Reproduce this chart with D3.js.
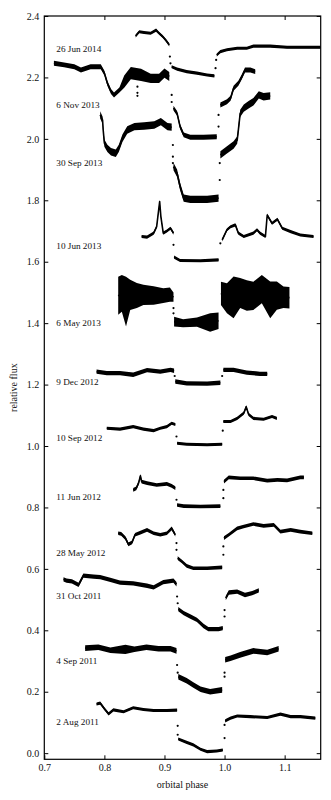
<!DOCTYPE html>
<html>
<head>
<meta charset="utf-8">
<script src="https://cdn.jsdelivr.net/npm/d3@7"></script>
<style>
  body { margin: 0; background: #fff; }
  svg text { font-family: "Liberation Serif", "DejaVu Serif", serif; fill: #111; }
</style>
</head>
<body>
<div id="chart"></div>
<script>
// Light curves: [phase, relative flux, (optional) scatter half-width]; null = gap
const aug2011 = [
  [0.787,0.160],[0.793,0.163],[0.801,0.142],[0.807,0.128],[0.815,0.141],[0.832,0.135],[0.848,0.148],[0.865,0.142],[0.882,0.139],[0.904,0.139],[0.921,0.140],
  null,
  [0.923,0.046],[0.937,0.035],[0.948,0.027],[0.960,0.013],[0.971,0.005],[0.987,0.007],[0.997,0.010],
  null,
  [1.001,0.105],[1.010,0.114],[1.021,0.121],[1.043,0.119],[1.071,0.116],[1.093,0.127],[1.110,0.119],[1.126,0.119],[1.151,0.114]
];
const aug2011Dots = [[0.922,0.089],[0.922,0.060],[1.000,0.049],[1.000,0.092]];

const sep2011 = [
  [0.768,0.342],[0.790,0.345],[0.810,0.335],[0.835,0.338,0.015],[0.850,0.338],[0.870,0.345],[0.890,0.340],[0.910,0.340],[0.920,0.333],
  null,
  [0.923,0.249],[0.937,0.236],[0.948,0.222],[0.960,0.208],[0.976,0.200],[0.996,0.206],
  null,
  [1.001,0.304],[1.010,0.309],[1.026,0.320],[1.048,0.333],[1.071,0.328],[1.090,0.340]
];
const sep2011Dots = [[0.921,0.287],[0.922,0.262],[1.000,0.249],[1.000,0.262]];

const oct2011 = [
  [0.732,0.566],[0.737,0.562],[0.746,0.559],[0.757,0.548],[0.765,0.578],[0.782,0.575],[0.793,0.573],[0.810,0.564],[0.826,0.555],[0.848,0.553],[0.871,0.545],[0.882,0.540],[0.898,0.557],[0.915,0.562],[0.920,0.550],
  null,
  [0.923,0.469],[0.932,0.456],[0.943,0.445],[0.954,0.434],[0.965,0.414],[0.973,0.404],[0.990,0.404],[0.997,0.407],
  null,
  [1.002,0.505],[1.007,0.523],[1.021,0.526],[1.034,0.515],[1.046,0.521],[1.057,0.530]
];
const oct2011Dots = [[0.921,0.510],[0.922,0.488],[1.000,0.445],[1.000,0.466]];

const may2012 = [
  [0.823,0.716],[0.828,0.714],[0.835,0.700],[0.840,0.680],[0.846,0.686],[0.851,0.711],[0.860,0.718],[0.871,0.727],[0.882,0.716],[0.893,0.711],[0.904,0.716],[0.912,0.732],[0.918,0.711],
  null,
  [0.922,0.635],[0.929,0.624],[0.937,0.610],[0.948,0.602],[0.971,0.602],[0.996,0.605],
  null,
  [0.999,0.700],[1.007,0.711],[1.021,0.732],[1.032,0.738],[1.048,0.746],[1.065,0.740],[1.082,0.743],[1.093,0.721],[1.110,0.727],[1.126,0.721],[1.146,0.716]
];
const may2012Dots = [[0.920,0.662],[0.920,0.684],[0.998,0.646],[0.998,0.673]];

const jun2012 = [
  [0.848,0.857],[0.853,0.862],[0.857,0.880],[0.860,0.903],[0.862,0.884],[0.871,0.879],[0.887,0.873],[0.904,0.877],[0.912,0.870],[0.918,0.863],
  null,
  [0.921,0.808],[0.932,0.804],[0.960,0.803],[0.993,0.804],
  null,
  [0.999,0.884],[1.007,0.898],[1.026,0.895],[1.048,0.895],[1.071,0.887],[1.088,0.890],[1.104,0.888],[1.126,0.898],[1.132,0.898]
];
const jun2012Dots = [[0.920,0.825],[0.998,0.830],[0.998,0.857]];

const sep2012 = [
  [0.804,1.058],[0.826,1.055],[0.848,1.063],[0.865,1.055],[0.882,1.050],[0.893,1.058],[0.904,1.063],[0.912,1.074],[0.918,1.070],
  null,
  [0.921,1.009],[0.937,1.006],[0.971,1.004],[0.996,1.006],
  null,
  [0.998,1.080],[1.010,1.080],[1.021,1.090],[1.032,1.107],[1.036,1.128],[1.040,1.103],[1.048,1.090],[1.065,1.087],[1.079,1.096],[1.087,1.090]
];
const sep2012Dots = [[0.920,1.031],[0.997,1.050]];

const dec2012 = [
  [0.787,1.242],[0.804,1.237],[0.826,1.237],[0.848,1.232],[0.871,1.247],[0.893,1.242],[0.910,1.248],[0.916,1.245],
  null,
  [0.918,1.210],[0.937,1.204],[0.971,1.203],[0.993,1.206],
  null,
  [0.998,1.248],[1.015,1.248],[1.037,1.239],[1.059,1.235],[1.071,1.235]
];
const dec2012Dots = [[0.917,1.228],[0.996,1.228]];

const may2013 = [
  [0.823,1.489,0.062],[0.829,1.497,0.060],[0.836,1.470,0.081],[0.843,1.492,0.049],[0.854,1.490,0.041],[0.865,1.492,0.033],[0.882,1.490,0.030],[0.898,1.490,0.024],[0.909,1.493,0.023],[0.915,1.485,0.015],
  null,
  [0.916,1.405,0.016],[0.931,1.400,0.013],[0.954,1.403,0.015],[0.976,1.402,0.030],[0.990,1.408,0.027],
  null,
  [0.994,1.497,0.038],[1.004,1.481,0.049],[1.015,1.484,0.068],[1.026,1.498,0.049],[1.037,1.490,0.050],[1.048,1.489,0.046],[1.062,1.511,0.046],[1.076,1.476,0.060],[1.087,1.490,0.046],[1.098,1.484,0.035],[1.108,1.483,0.035]
];
const may2013Dots = [[0.915,1.449],[0.915,1.432]];

const jun2013 = [
  [0.862,1.682],[0.871,1.680],[0.882,1.693],[0.887,1.714],[0.892,1.796],[0.894,1.747],[0.898,1.693],[0.904,1.700],[0.910,1.709],[0.915,1.693],
  null,
  [0.916,1.615],[0.926,1.604],[0.960,1.603],[0.990,1.606],
  null,
  [0.996,1.671],[1.004,1.704],[1.010,1.714],[1.018,1.720],[1.023,1.693],[1.032,1.682],[1.048,1.693],[1.054,1.704],[1.059,1.693],[1.068,1.682],[1.071,1.752],[1.079,1.725],[1.088,1.738],[1.096,1.709],[1.110,1.698],[1.126,1.687],[1.148,1.682]
];
const jun2013Dots = [[0.915,1.655],[0.993,1.660]];

const sep2013 = [
  [0.793,2.078],[0.797,2.061],[0.798,2.029],[0.800,1.986],[0.805,1.969],[0.811,1.958],[0.819,1.953],[0.824,1.969],[0.830,2.002],[0.838,2.029],[0.850,2.040],[0.866,2.042],[0.883,2.045],[0.894,2.056],[0.905,2.040],[0.912,2.038],
  null,
  [0.915,1.910],[0.921,1.888],[0.926,1.845],[0.932,1.807],[0.943,1.803],[0.971,1.803],[0.990,1.807],
  null,
  [0.993,1.948],[1.004,1.964],[1.015,1.980],[1.021,1.996],[1.023,2.029],[1.026,2.083],[1.032,2.100],[1.040,2.111],[1.048,2.121],[1.057,2.143],[1.065,2.137],[1.076,2.140]
];
const sep2013Dots = [[0.914,1.980],[0.914,1.942],[0.914,1.921],[0.992,1.866],[0.992,1.921]];

const nov2013 = [
  [0.716,2.246],[0.733,2.241],[0.750,2.235],[0.761,2.224],[0.777,2.235],[0.794,2.235],[0.800,2.214],[0.805,2.181],[0.811,2.154],[0.816,2.143],[0.825,2.159],[0.833,2.186,0.02],[0.844,2.214,0.02],[0.861,2.208,0.02],[0.877,2.197,0.015],[0.891,2.197,0.015],[0.900,2.214,0.015],[0.908,2.203,0.015],
  null,
  [0.915,2.100],[0.921,2.083],[0.926,2.040],[0.932,2.013],[0.943,2.005],[0.965,2.005],[0.987,2.007],
  null,
  [0.993,2.110],[1.004,2.121],[1.010,2.132],[1.015,2.165],[1.023,2.181],[1.029,2.203],[1.034,2.224],[1.043,2.224],[1.051,2.219]
];
const nov2013Dots = [[0.912,2.143],[0.912,2.120],[0.990,2.040],[0.990,2.078],[0.855,2.170],[0.855,2.150],[0.855,2.140]];

const jun2014 = [
  [0.852,2.335],[0.858,2.349],[0.866,2.346],[0.877,2.344],[0.886,2.354],[0.891,2.344],[0.897,2.333],[0.902,2.322],[0.908,2.306],
  null,
  [0.912,2.235],[0.921,2.227],[0.937,2.219],[0.954,2.214],[0.971,2.208],[0.983,2.205],
  null,
  [0.987,2.273],[0.993,2.284],[1.004,2.290],[1.021,2.295],[1.037,2.295],[1.048,2.302],[1.076,2.302],[1.104,2.298],[1.132,2.298],[1.160,2.298]
];
const jun2014Dots = [[0.909,2.268],[0.910,2.246],[0.985,2.230],[0.986,2.257]];

const nights = ["2 Aug 2011", "4 Sep 2011", "31 Oct 2011", "28 May 2012", "11 Jun 2012", "10 Sep 2012",
                "9 Dec 2012", "6 May 2013", "10 Jun 2013", "30 Sep 2013", "6 Nov 2013", "26 Jun 2014"];
const curves = [aug2011, sep2011, oct2011, may2012, jun2012, sep2012, dec2012, may2013, jun2013, sep2013, nov2013, jun2014];
const dots = [aug2011Dots, sep2011Dots, oct2011Dots, may2012Dots, jun2012Dots, sep2012Dots, dec2012Dots, may2013Dots, jun2013Dots, sep2013Dots, nov2013Dots, jun2014Dots];
const scatter = [0.005, 0.009, 0.007, 0.006, 0.006, 0.005, 0.007, 0.02, 0.005, 0.012, 0.008, 0.005];
const labelFlux = [0.100, 0.298, 0.510, 0.648, 0.832, 1.023, 1.206, 1.397, 1.649, 1.920, 2.107, 2.290];
const labelPhase = 0.72;

const xTicks = [0.7, 0.8, 0.9, 1.0, 1.1];
const yTicks = [0.0, 0.2, 0.4, 0.6, 0.8, 1.0, 1.2, 1.4, 1.6, 1.8, 2.0, 2.2, 2.4];

const margin = { top: 16, right: 10.3, bottom: 40.7, left: 44.3 };
const W = 331, H = 800;
const width = W - margin.left - margin.right;
const height = H - margin.top - margin.bottom;

const svg = d3.select('#chart').append('svg')
    .attr('width', W)
    .attr('height', H);

const g = svg.append('g')
    .attr('transform', `translate(${margin.left},${margin.top})`);

const x = d3.scaleLinear().domain([0.7, 1.16]).range([0, width]);
const y = d3.scaleLinear().domain([-0.02, 2.4]).range([height, 0]);

g.append('clipPath').attr('id', 'clip')
  .append('rect').attr('width', width).attr('height', height);

const plot = g.append('g').attr('clip-path', 'url(#clip)');

curves.forEach((curve, i) => {
    const area = d3.area()
        .defined(d => d !== null)
        .x(d => x(d[0]))
        .y0(d => y(d[1] - (d[2] !== undefined ? d[2] : scatter[i])))
        .y1(d => y(d[1] + (d[2] !== undefined ? d[2] : scatter[i])));
    const line = d3.line()
        .defined(d => d !== null)
        .x(d => x(d[0]))
        .y(d => y(d[1]));

    plot.append('path')
        .attr('d', area(curve))
        .attr('fill', '#000');
    plot.append('path')
        .attr('d', line(curve))
        .attr('fill', 'none')
        .attr('stroke', '#000')
        .attr('stroke-width', 1.6)
        .attr('stroke-linejoin', 'round');

    plot.selectAll(null)
        .data(dots[i])
        .enter()
        .append('circle')
        .attr('cx', d => x(d[0]))
        .attr('cy', d => y(d[1]))
        .attr('r', 1.1)
        .attr('fill', '#000');

    g.append('text')
        .attr('x', x(labelPhase))
        .attr('y', y(labelFlux[i]))
        .attr('dominant-baseline', 'middle')
        .attr('font-size', '9.2px')
        .text(nights[i]);
});

// axes with inward ticks on all four sides
const fmt = d3.format('.1f');
const axisStyle = sel => {
    sel.select('.domain').remove();
    sel.selectAll('.tick line').attr('stroke', '#000').attr('stroke-width', 1);
    sel.selectAll('.tick text').attr('font-size', '10px');
};

g.append('g')
    .attr('transform', `translate(0,${height})`)
    .call(d3.axisBottom(x).tickValues(xTicks).tickFormat(fmt).tickSizeInner(-4).tickSizeOuter(0).tickPadding(5))
    .call(axisStyle);
g.append('g')
    .call(d3.axisTop(x).tickValues(xTicks.slice(1)).tickFormat('').tickSizeInner(-4).tickSizeOuter(0))
    .call(axisStyle);
g.append('g')
    .call(d3.axisLeft(y).tickValues(yTicks).tickFormat(fmt).tickSizeInner(-4).tickSizeOuter(0).tickPadding(5))
    .call(axisStyle);
g.append('g')
    .attr('transform', `translate(${width},0)`)
    .call(d3.axisRight(y).tickValues(yTicks).tickFormat('').tickSizeInner(-4).tickSizeOuter(0))
    .call(axisStyle);

g.selectAll('text').attr('font-family', '"Liberation Serif", serif');

g.append('rect')
    .attr('width', width)
    .attr('height', height)
    .attr('fill', 'none')
    .attr('stroke', '#000')
    .attr('stroke-width', 1.2);

g.append('text')
    .attr('x', width / 2)
    .attr('y', height + 26)
    .attr('text-anchor', 'middle')
    .attr('dominant-baseline', 'middle')
    .attr('font-size', '10px')
    .text('orbital phase');

g.append('text')
    .attr('transform', `translate(${15 - margin.left},${height / 2}) rotate(-90)`)
    .attr('text-anchor', 'middle')
    .attr('dominant-baseline', 'middle')
    .attr('font-size', '10px')
    .text('relative flux');
</script>
</body>
</html>
